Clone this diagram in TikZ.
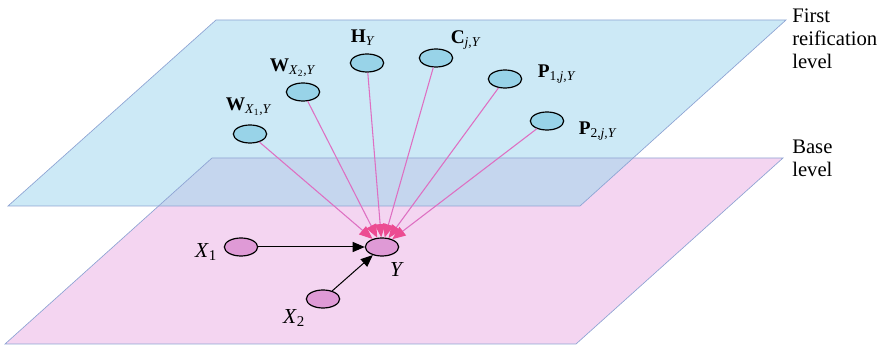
\documentclass[tikz,border=0pt]{standalone}
\usepackage{fontspec}
\setmainfont{Liberation Serif}
\usepackage{xcolor}
\usetikzlibrary{positioning, arrows.meta, shapes.geometric}
\definecolor{reifblue}{HTML}{CCE9F6}
\definecolor{basepink}{HTML}{F4D5F1}
\definecolor{overlapblue}{HTML}{C5D6EE}
\definecolor{planeedge}{HTML}{8DA3D3}
\definecolor{nodeblue}{HTML}{98D3E8}
\definecolor{nodepink}{HTML}{DF9AD6}
\definecolor{linkpink}{HTML}{DE6FC2}
\definecolor{headpink}{HTML}{EC4C92}

\tikzset{
  reifnode/.style={ellipse, draw=black, line width=0.9pt, fill=nodeblue,
                   minimum width=25pt, minimum height=13.5pt, inner sep=0pt},
  basenode/.style={reifnode, fill=nodepink},
  lbl/.style={font=\fontsize{14.5}{16}\selectfont, inner sep=0pt},
  baselbl/.style={font=\fontsize{16}{18}\selectfont, inner sep=0pt},
  levellbl/.style={font=\fontsize{15.5}{17}\selectfont, inner sep=0pt, anchor=north west, align=left},
  link/.style={draw=linkpink, line width=0.8pt,
               -{Triangle[length=10pt,width=8pt,color=headpink,fill=headpink]}},
  cause/.style={draw=black, line width=0.75pt, -{Triangle[length=9pt,width=7.5pt]}}
}

\begin{document}
\begin{tikzpicture}[x=0.75pt, y=-0.75pt]
    \useasboundingbox (0,0) rectangle (879,345);
    % the two levels
    \fill[basepink] (5,344) -- (576,344) -- (783,158) -- (212,158) -- cycle;
    \fill[reifblue] (8,206) -- (580,206) -- (786,20) -- (216,20) -- cycle;
    \begin{scope}
      \clip (5,344) -- (576,344) -- (783,158) -- (212,158) -- cycle;
      \fill[overlapblue] (8,206) -- (580,206) -- (786,20) -- (216,20) -- cycle;
    \end{scope}
    \draw[planeedge, line width=0.5pt] (5,344) -- (576,344) -- (783,158) -- (212,158) -- cycle;
    \draw[planeedge, line width=0.5pt] (8,206) -- (580,206) -- (786,20) -- (216,20) -- cycle;

    \node[levellbl] (firstlevel) at (792,9) {First\\reification\\level};
    \node[levellbl] (baselevel) at (792,140) {Base\\level};

    % first reification level
    \node[reifnode] (wxone)  at (250,134) {};
    \node[reifnode] (wxtwo)  at (303,92)  {};
    \node[reifnode] (hy)     at (367,63)  {};
    \node[reifnode] (cjy)    at (436,58)  {};
    \node[reifnode] (ponejy) at (505,79)  {};
    \node[reifnode] (ptwojy) at (547,121) {};

    \node[lbl] (lwxone)  at (249,107) {\textbf{W}\textsubscript{\textit{X}\textsubscript{1}\textit{,Y}}};
    \node[lbl] (lwxtwo)  at (293,68)  {\textbf{W}\textsubscript{\textit{X}\textsubscript{2}\textit{,Y}}};
    \node[lbl] (lhy)     at (363,38)  {\textbf{H}\textsubscript{\textit{Y}}};
    \node[lbl] (lcjy)    at (466,40)  {\textbf{C}\textsubscript{\textit{j,Y}}};
    \node[lbl] (lponejy) at (557,74)  {\textbf{P}\textsubscript{1,\textit{j,Y}}};
    \node[lbl] (lptwojy) at (598,131) {\textbf{P}\textsubscript{2,\textit{j,Y}}};

    % base level
    \node[basenode] (xone) at (241,247) {};
    \node[basenode] (y)    at (382,247) {};
    \node[basenode] (xtwo) at (323,299) {};

    \node[baselbl] (lxone) at (206,252) {\textit{X}\textsubscript{1}};
    \node[baselbl] (ly)    at (397,270) {\textit{Y}};
    \node[baselbl] (lxtwo) at (294,318) {\textit{X}\textsubscript{2}};

    \draw[cause] (xone) -- (y);
    \draw[cause] (xtwo) -- (y);

    \foreach \src in {wxone,wxtwo,hy,cjy,ponejy,ptwojy}
      \draw[link] (\src) -- (y);
  \end{tikzpicture}
\end{document}
